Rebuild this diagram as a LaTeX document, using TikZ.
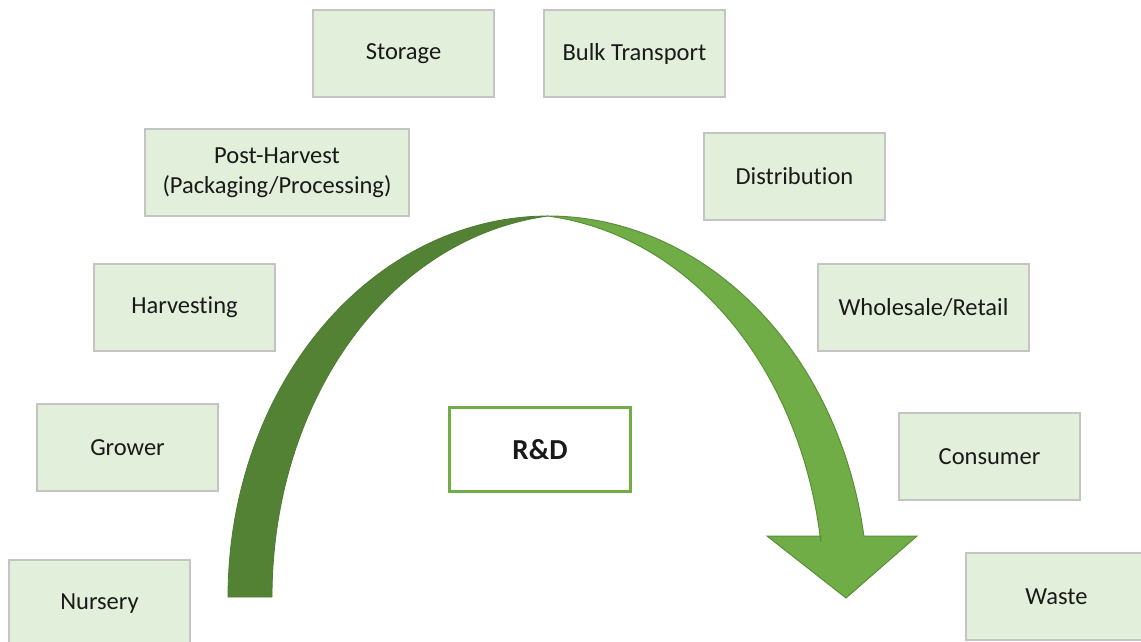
\documentclass[tikz,border=0pt]{standalone}
\usepackage{fontspec}
\setmainfont{Carlito}[RawFeature={-liga}]
\definecolor{boxfill}{HTML}{E2EFDA}
\definecolor{boxline}{HTML}{C4C4C4}
\definecolor{darkg}{HTML}{548235}
\definecolor{lightg}{HTML}{70AD47}
\definecolor{darkline}{HTML}{4E7A31}
\definecolor{lightline}{HTML}{5A8F38}
\definecolor{txt}{HTML}{1A1A1A}
\tikzset{
  stagebox/.style={draw=boxline, line width=1.2pt, fill=boxfill, minimum width=181pt, minimum height=87pt,
    inner sep=0pt, align=center, text=txt, font=\fontsize{24.5}{30}\selectfont},
  rdbox/.style={draw=lightg, line width=3pt, fill=white, minimum width=181pt, minimum height=84pt,
    inner sep=0pt, text=txt, font=\fontsize{29}{34}\selectfont\bfseries}
}
\begin{document}
\begin{tikzpicture}[x=1pt,y=-1pt,
  declare function={nn(\t)=sqrt((3.81*cos(\t))^2+(3.2*sin(\t))^2);}]
\useasboundingbox (0,0) rectangle (1141,642);
\clip (0,0) rectangle (1141,642);
% curved arrow, left (dark) half
\fill[darkg, draw=darkline, line width=0.8pt, line join=round]
  plot[domain=180:90, samples=100] ({548+320*cos(\x)},{597-381*sin(\x)})
  -- plot[domain=90:180, samples=100]
     ({548+320*cos(\x)+167.64*cos(\x)*cos(\x)/nn(\x)},{597-381*sin(\x)-140.8*cos(\x)*sin(\x)/nn(\x)})
  -- cycle;
% right (light) half with head
\fill[lightg, draw=lightline, line width=1pt, line join=miter]
  plot[domain=90:9.2, samples=100] ({548+320*cos(\x)},{597-381*sin(\x)})
  -- (917,536) -- (846,598) -- (767,536) -- (821,536)
  -- plot[domain=9.2:90, samples=100]
     ({548+320*cos(\x)-167.64*cos(\x)*cos(\x)/nn(\x)},{597-381*sin(\x)+140.8*cos(\x)*sin(\x)/nn(\x)})
  -- cycle;
% stage boxes
\node[stagebox] (storage) at (403.5,53.5) {Storage};
\node[stagebox] (bulk) at (634.5,53.5) {Bulk Transport};
\node[stagebox, minimum width=264pt] (post) at (277,172.5) {Post-Harvest\\(Packaging/Processing)};
\node[stagebox] (dist) at (794.5,176.5) {Distribution};
\node[stagebox] (harv) at (184.5,307.5) {Harvesting};
\node[stagebox, minimum width=211pt] (whole) at (923.5,307.5) {Wholesale/Retail};
\node[stagebox] (grower) at (127.5,447.5) {Grower};
\node[stagebox] (cons) at (989.5,456.5) {Consumer};
\node[stagebox] (nurs) at (99.5,603.5) {Nursery};
\node[stagebox] (waste) at (1056.5,596.5) {Waste};
\node[rdbox] (rd) at (540,449.5) {R\&D};
\end{tikzpicture}
\end{document}
